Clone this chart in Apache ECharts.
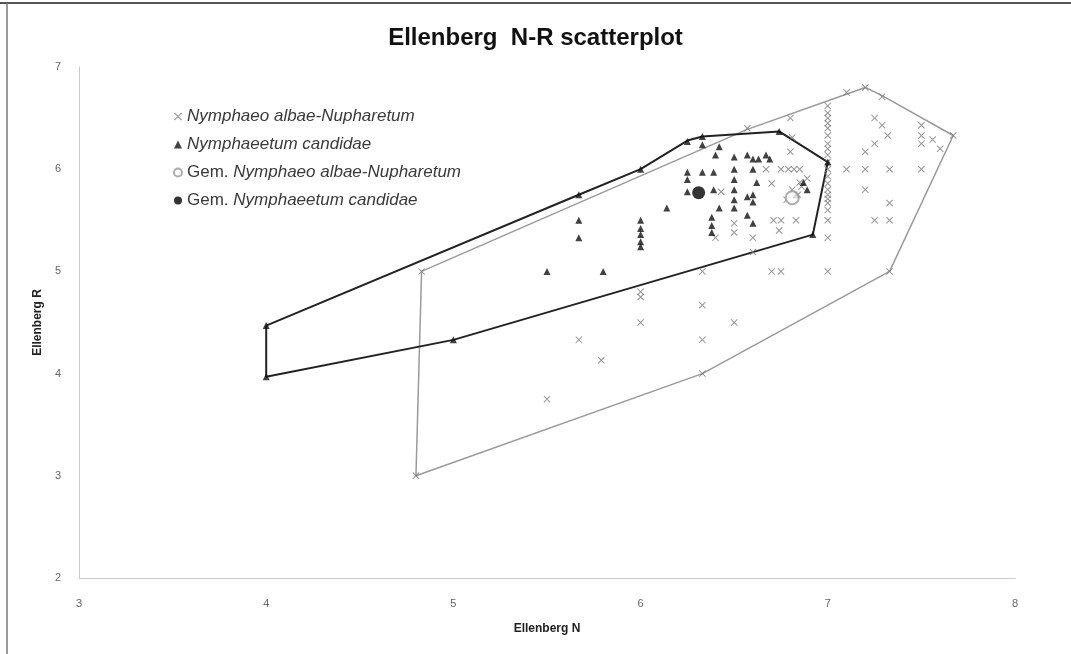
<!DOCTYPE html>
<html><head><meta charset="utf-8">
<script src="https://cdn.jsdelivr.net/npm/echarts@6/dist/echarts.min.js"></script>
<style>html,body{margin:0;padding:0;background:#fff}#c{width:1071px;height:654px}</style>
</head><body><div id="c"></div>
<script>
// ---- data (Ellenberg N, Ellenberg R) ----
var seriesNames = ['Nymphaeo albae-Nupharetum', 'Nymphaeetum candidae', 'Gem. Nymphaeo albae-Nupharetum', 'Gem. Nymphaeetum candidae'];
var xTicks = [3, 4, 5, 6, 7, 8];
var yTicks = [2, 3, 4, 5, 6, 7];
var albaeNuphar = [
  [4.8,3.0],[4.83,5.0],[5.5,3.75],[5.67,4.33],[5.79,4.13],[6.0,4.5],[6.0,4.75],[6.0,4.8],
  [6.33,4.0],[6.33,4.33],[6.33,4.67],[6.33,5.0],[6.5,4.5],[6.4,5.33],[6.43,5.78],
  [6.5,5.47],[6.5,5.38],[6.6,5.33],[6.6,5.19],
  [6.57,6.4],[6.8,6.5],[6.81,6.31],[6.8,6.17],
  [6.67,6.0],[6.75,6.0],[6.79,6.0],[6.82,6.0],[6.85,6.0],
  [6.7,5.86],[6.81,5.8],[6.85,5.87],[6.89,5.91],[6.86,5.83],[6.78,5.7],[6.84,5.75],
  [6.71,5.5],[6.75,5.5],[6.74,5.4],[6.83,5.5],[6.7,5.0],[6.75,5.0],
  [7,6.62],[7,6.55],[7,6.5],[7,6.45],[7,6.4],[7,6.33],[7,6.25],[7,6.2],[7,6.14],[7,6.07],
  [7,6.0],[7,5.93],[7,5.86],[7,5.8],[7,5.75],[7,5.71],[7,5.67],[7,5.6],[7,5.5],[7,5.33],[7,5.0],
  [7.1,6.75],[7.2,6.8],[7.29,6.71],[7.25,6.5],[7.29,6.43],[7.32,6.33],[7.25,6.25],[7.2,6.17],
  [7.5,6.43],[7.5,6.33],[7.5,6.25],[7.56,6.29],[7.6,6.2],[7.67,6.33],
  [7.1,6.0],[7.2,6.0],[7.33,6.0],[7.5,6.0],
  [7.2,5.8],[7.33,5.67],[7.25,5.5],[7.33,5.5],[7.33,5.0]
];
var candidae = [
  [4,4.47],[4,3.97],[5,4.33],[5.5,5.0],[5.8,5.0],[5.67,5.75],[5.67,5.5],[5.67,5.33],
  [6,6.0],[6,5.5],[6,5.42],[6,5.36],[6,5.29],[6,5.24],
  [6.14,5.62],[6.25,6.27],[6.33,6.32],[6.33,6.24],[6.25,5.97],[6.25,5.9],[6.25,5.78],
  [6.33,5.97],[6.39,5.97],[6.4,6.14],[6.42,6.22],[6.39,5.8],[6.42,5.62],[6.38,5.53],[6.38,5.45],[6.38,5.38],
  [6.5,6.12],[6.5,6.0],[6.5,5.9],[6.5,5.8],[6.5,5.7],[6.5,5.62],
  [6.57,6.14],[6.6,6.1],[6.63,6.1],[6.67,6.14],[6.69,6.1],
  [6.6,6.0],[6.62,5.87],[6.6,5.75],[6.57,5.73],[6.6,5.68],[6.57,5.55],[6.6,5.47],
  [6.74,6.37],[7,6.07],[6.92,5.36],[6.83,5.75],[6.87,5.87],[6.89,5.8]
];
var meanAlbaeNuphar = [[6.81,5.72]];
var meanCandidae = [[6.31,5.77]];
var hullAlbaeNuphar = [[4.83,5.0],[6.57,6.39],[7.11,6.74],[7.2,6.8],[7.29,6.72],[7.67,6.33],[7.33,5.0],[6.33,4.0],[4.8,3.0],[4.83,5.0]];
var hullCandidae = [[4,4.47],[5.67,5.75],[6,6.0],[6.25,6.28],[6.33,6.32],[6.74,6.37],[7,6.07],[6.92,5.36],[5,4.33],[4,3.97],[4,4.47]];

var crossPath = 'path://M1,0L5,4L9,0L10,1L6,5L10,9L9,10L5,6L1,10L0,9L4,5L0,1Z';
var chart = echarts.init(document.getElementById('c'));
var font = 'Liberation Sans, Arial, sans-serif';
chart.setOption({
  animation: false,
  backgroundColor: '#fff',
  title: {
    text: 'Ellenberg  N-R scatterplot', left: 'center', top: 21,
    textStyle: {fontFamily: font, fontSize: 24, fontWeight: 'bold', color: '#111'}
  },
  legend: {
    data: seriesNames, orient: 'vertical', left: 168, top: 103,
    itemWidth: 8, itemHeight: 8, itemGap: 11,
    textStyle: {fontFamily: font, fontSize: 17, fontStyle: 'italic', color: '#3a3a3a',
      rich: {n: {fontFamily: font, fontSize: 17, fontStyle: 'normal', color: '#3a3a3a'},
             i: {fontFamily: font, fontSize: 17, fontStyle: 'italic', color: '#3a3a3a'}}},
    formatter: function (name) {
      if (name.indexOf('Gem. ') === 0) return '{n|Gem.} {i|' + name.slice(5) + '}';
      return '{i|' + name + '}';
    }
  },
  graphic: [
    {type: 'line', shape: {x1: 0, y1: 3, x2: 1071, y2: 3}, style: {stroke: '#555', lineWidth: 2}},
    {type: 'line', shape: {x1: 7, y1: 3, x2: 7, y2: 654}, style: {stroke: '#777', lineWidth: 1.5}}
  ],
  grid: {left: 79, right: 56, top: 67, bottom: 76},
  xAxis: {
    type: 'value', min: xTicks[0], max: xTicks[xTicks.length - 1], interval: 1,
    name: 'Ellenberg N', nameLocation: 'middle', nameGap: 45,
    nameTextStyle: {fontFamily: font, fontSize: 12, fontWeight: 'bold', color: '#222'},
    axisLine: {lineStyle: {color: '#ccc', width: 1}}, axisTick: {show: false},
    splitLine: {show: false},
    axisLabel: {fontFamily: font, fontSize: 11, color: '#666', margin: 20}
  },
  yAxis: {
    type: 'value', min: yTicks[0], max: yTicks[yTicks.length - 1], interval: 1,
    name: 'Ellenberg R', nameLocation: 'middle', nameGap: 34, nameRotate: 90,
    nameTextStyle: {fontFamily: font, fontSize: 12, fontWeight: 'bold', color: '#222'},
    axisLine: {show: true, lineStyle: {color: '#ccc', width: 1}}, axisTick: {show: false},
    splitLine: {show: false},
    axisLabel: {fontFamily: font, fontSize: 11, color: '#666', margin: 18}
  },
  series: [
    {type: 'line', data: hullAlbaeNuphar, symbol: 'none', z: 1, silent: true,
     lineStyle: {color: '#9a9a9a', width: 1.5}},
    {type: 'line', data: hullCandidae, symbol: 'none', z: 1, silent: true,
     lineStyle: {color: '#222', width: 2}},
    {name: seriesNames[0], type: 'scatter', data: albaeNuphar, symbol: crossPath, symbolSize: 7, z: 3,
     itemStyle: {color: '#7a7a7a'}},
    {name: seriesNames[1], type: 'scatter', data: candidae, symbol: 'triangle', symbolSize: 7, z: 4,
     itemStyle: {color: '#111'}},
    {name: seriesNames[2], type: 'scatter', data: meanAlbaeNuphar, symbol: 'emptyCircle', symbolSize: 13, z: 5,
     itemStyle: {color: '#999', borderColor: '#999', borderWidth: 1}},
    {name: seriesNames[3], type: 'scatter', data: meanCandidae, symbol: 'circle', symbolSize: 13, z: 5,
     itemStyle: {color: '#000'}}
  ]
});
</script></body></html>
